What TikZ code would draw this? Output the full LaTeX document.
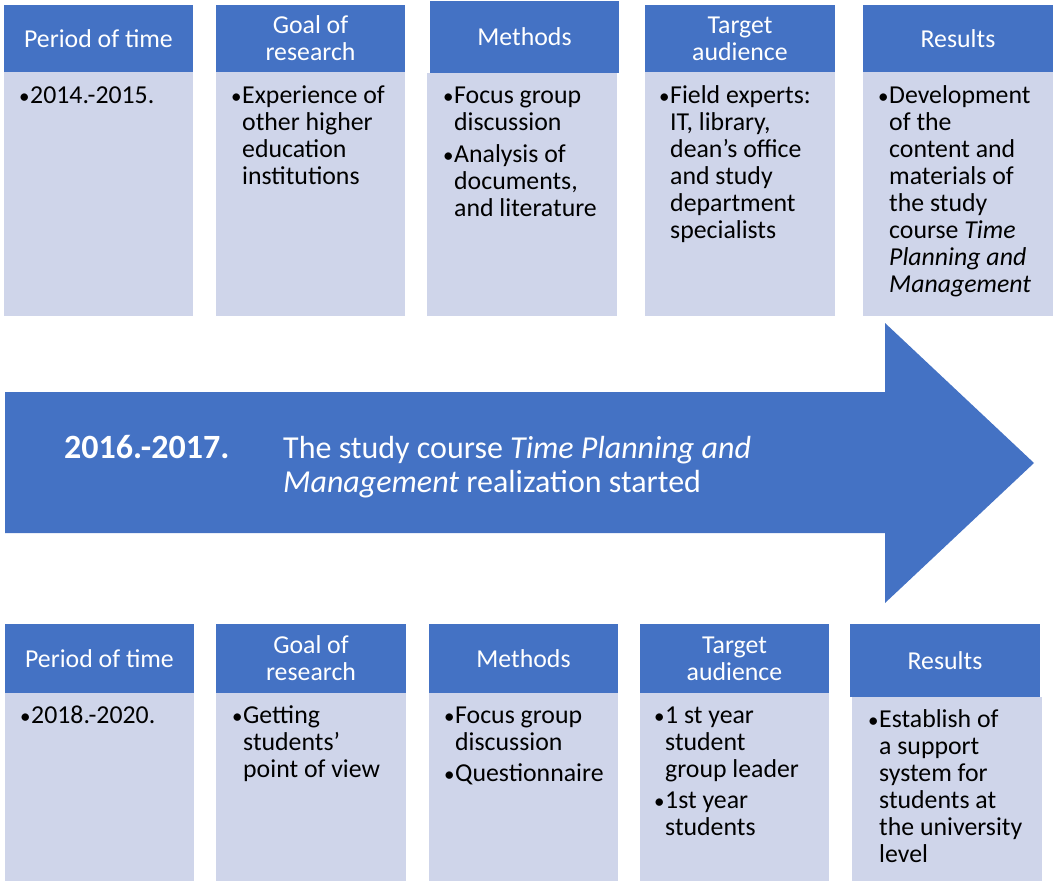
\documentclass[tikz,border=0pt]{standalone}
\usepackage{fontspec}
\setmainfont{Carlito}
\definecolor{hdr}{HTML}{4472C4}
\definecolor{bdy}{HTML}{CFD5EA}
\newcommand\bl{\leavevmode\llap{\makebox[11pt][l]{\fontsize{21}{27}\selectfont •}}}
\newcommand\hd[6]{\node[hdrbox, minimum width={#4pt-#2pt}, minimum height={#5pt-#3pt}] (#1) at ({(#2+#4)/2},{(#3+#5)/2}) {#6};}
\newcommand\bd[5]{\node[bodybox, minimum width={#4pt-#2pt}, minimum height={#5pt-#3pt}] (#1) at ({(#2+#4)/2},{(#3+#5)/2}) {};}
\tikzset{
  hdrbox/.style={fill=hdr, draw=none, inner sep=0, text=white, align=center, font=\fontsize{25.8}{27}\selectfont},
  bodybox/.style={fill=bdy, draw=none, inner sep=0},
  btext/.style={inner sep=0, align=left, anchor=north west, text=black, font=\fontsize{25.8}{27}\selectfont},
  atext/.style={inner sep=0, align=left, text=white, font=\fontsize{32}{34}\selectfont},
  arrowshape/.style={fill=hdr, draw=none}
}
\begin{document}
\begin{tikzpicture}[x=1pt,y=-1pt]
\useasboundingbox (0,0) rectangle (1053,883);
% top row
\bd{tb1}{4}{72}{193}{316}
\bd{tb2}{216}{72}{405}{316}
\bd{tb3}{427}{73}{617}{316}
\bd{tb4}{645}{72}{835}{316}
\bd{tb5}{863}{72}{1053}{316}
\hd{th1}{4}{5}{193}{72}{Period of time}
\hd{th2}{216}{5}{405}{72}{Goal of\\research}
\hd{th3}{430}{1}{619}{73}{Methods}
\hd{th4}{645}{5}{835}{72}{Target\\audience}
\hd{th5}{863}{5}{1053}{72}{Results}
\node[btext] (tt1) at (30,84) {\strut\bl 2014.-2015.};
\node[btext] (tt2) at (242,84) {\strut\bl Experience of\\ other higher\\ education\\ institutions};
\node[btext] (tt3) at (454,84) {\strut\bl Focus group\\ discussion\\[5pt] \bl Analysis of\\ documents,\\ and literature};
\node[btext] (tt4) at (670,84) {\strut\bl Field experts:\\ IT, library,\\ dean's office\\ and study\\ department\\ specialists};
\node[btext] (tt5) at (889,84) {\strut\bl Development\\ of the\\ content and\\ materials of\\ the study\\ course \textit{Time}\\ \textit{Planning and}\\ \textit{Management}};
% arrow
\fill[arrowshape] (5,392) -- (885,392) -- (885,323) -- (1034,463) -- (885,603) -- (885,533) -- (5,533) -- cycle;
\node[atext, anchor=base west, font=\fontsize{34}{34}\selectfont\bfseries] (yr) at (64,458) {2016.-2017.};
\node[atext, anchor=north west] (desc) at (283,434.2) {\strut The study course \textit{Time Planning and}\\ \textit{Management} realization started};
% bottom row
\bd{bb1}{5}{693}{194}{881}
\bd{bb2}{216}{693}{406}{881}
\bd{bb3}{429}{693}{618}{881}
\bd{bb4}{640}{693}{829}{881}
\bd{bb5}{852}{697}{1042}{881}
\hd{bh1}{5}{624}{194}{693}{Period of time}
\hd{bh2}{216}{624}{406}{693}{Goal of\\research}
\hd{bh3}{429}{624}{618}{693}{Methods}
\hd{bh4}{640}{624}{829}{693}{Target\\audience}
\hd{bh5}{850}{624}{1040}{697}{Results}
\node[btext] (bt1) at (31,704) {\strut\bl 2018.-2020.};
\node[btext] (bt2) at (243,704) {\strut\bl Getting\\ students'\\ point of view};
\node[btext] (bt3) at (455,704) {\strut\bl Focus group\\ discussion\\[4pt] \bl Questionnaire};
\node[btext] (bt4) at (665,704) {\strut\bl 1 st year\\ student\\ group leader\\[4pt] \bl 1st year\\ students};
\node[btext] (bt5) at (879,708) {\strut\bl Establish of\\ a support\\ system for\\ students at\\ the university\\ level};
\end{tikzpicture}
\end{document}
